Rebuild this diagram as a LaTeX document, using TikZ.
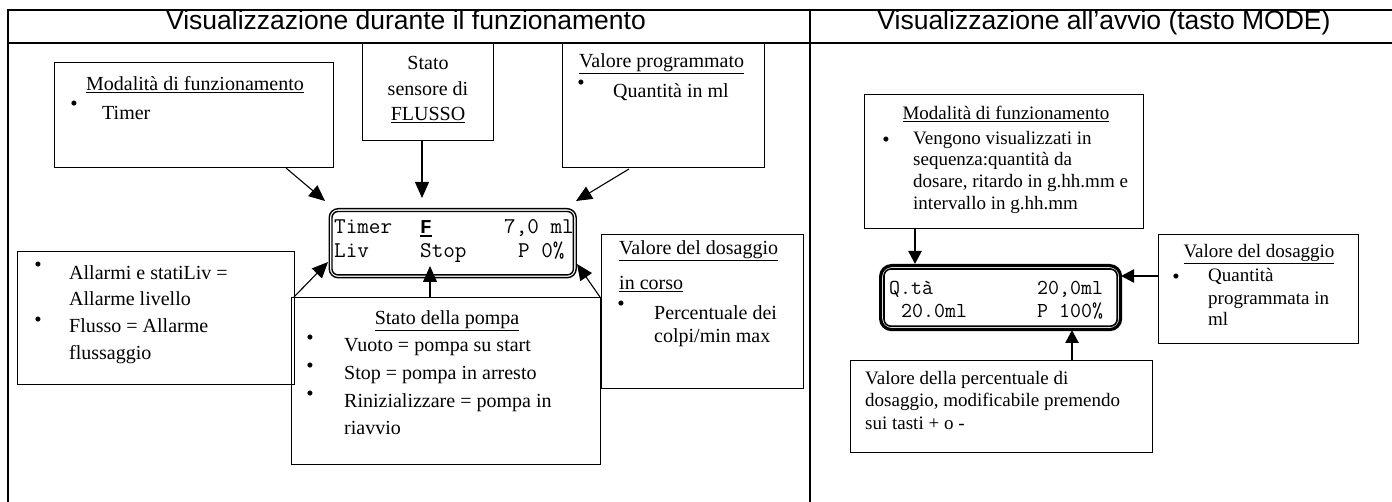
\documentclass[tikz,border=0pt]{standalone}
\usepackage{fontspec}
\setmainfont{Liberation Serif}
\newfontfamily\hdrfont{Liberation Sans}
\newfontfamily\boldmono{Liberation Mono}
\usetikzlibrary{arrows.meta,calc}
\begin{document}
\begin{tikzpicture}[x=1pt,y=-1pt,
  box/.style={draw, line width=1pt, anchor=north west, inner sep=0pt},
  txt/.style={anchor=mid west, inner sep=0pt, font=\fontsize{20}{26}\selectfont},
  ctxt/.style={anchor=mid, inner sep=0pt, font=\fontsize{20}{26}\selectfont},
  txtr/.style={anchor=mid west, inner sep=0pt, font=\fontsize{19}{22}\selectfont},
  ctxtr/.style={anchor=mid, inner sep=0pt, font=\fontsize{19}{22}\selectfont},
  bul/.style={anchor=center, inner sep=0pt, font=\fontsize{21}{24}\selectfont},
  arr/.style={line width=1.1pt, -{Triangle[length=16pt,width=14pt]}},
  arrb/.style={line width=2.6pt, -{Triangle[length=13pt,width=13pt]}},
  lcdl/.style={anchor=mid west, inner sep=0pt, font=\ttfamily\fontsize{22.5}{24}\selectfont},
  lcdr/.style={anchor=mid west, inner sep=0pt, font=\ttfamily\fontsize{21.3}{23}\selectfont},
  hdr/.style={anchor=mid, inner sep=0pt, font=\hdrfont\fontsize{26.5}{30}\selectfont},
]
\useasboundingbox (0,0) rectangle (1392,502);
% table
\draw[line width=2pt] (8,502) -- (8,10) -- (1392,10);
\draw[line width=2pt] (8,43) -- (1392,43);
\draw[line width=2pt] (810,10) -- (810,502);
\node[hdr] (h1) at (406,27) {Visualizzazione durante il funzionamento};
\node[hdr] (h2) at (1104,27) {Visualizzazione all’avvio (tasto MODE)};

% ---------- left panel ----------
\node[box, minimum width=279pt, minimum height=105pt] (modl) at (54,62) {};
\node[ctxt] (modlt) at (195,88) {\underline{Modalità di funzionamento}};
\node[bul] (modlb) at (74,106) {•};
\node[txt] (modl1) at (102,117) {Timer};

\node[box, minimum width=131pt, minimum height=97pt] (stato) at (362,43) {};
\node[ctxt] (stato1) at (428,67) {Stato};
\node[ctxt] (stato2) at (428,93) {sensore di};
\node[ctxt] (stato3) at (428,118) {\underline{FLUSSO}};

\node[box, minimum width=202pt, minimum height=124pt] (valp) at (562,43) {};
\node[txt] (valpt) at (579,65) {\underline{Valore programmato}};
\node[bul] (valpb) at (581,85) {•};
\node[txt] (valp1) at (613,95) {Quantità in ml};

% LCD left
\node[draw, line width=1.4pt, rounded corners=9pt, anchor=north west,
      minimum width=247pt, minimum height=69pt, inner sep=0pt] (lcd1) at (328.5,208) {};
\draw[line width=1.4pt, rounded corners=6pt]
  ($(lcd1.north west)+(3.5,3.5)$) rectangle ($(lcd1.south east)+(-3.5,-3.5)$);
\node[lcdl] (l1a) at (334,231) {Timer};
\node[anchor=mid west, inner sep=0pt, font=\boldmono\bfseries\fontsize{19.7}{24}\selectfont] (l1b) at (420,231) {F};
\draw[line width=2.2pt] ($(l1b.base west)+(0,3)$) -- ($(l1b.base east)+(0,3)$);
\node[lcdl] (l1c) at (504,231) {7,0 ml};
\node[lcdl] (l2a) at (334,255) {Liv};
\node[lcdl] (l2b) at (420,255) {Stop};
\node[lcdl] (l2c) at (518,255) {P 0\%};

\node[box, minimum width=277pt, minimum height=133pt] (allarmi) at (17,251) {};
\node[bul] (allb1) at (38,267) {•};
\node[txt] (all1) at (69,277) {Allarmi e statiLiv =};
\node[txt] (all2) at (69,303) {Allarme livello};
\node[bul] (allb2) at (38,322) {•};
\node[txt] (all3) at (69,330) {Flusso = Allarme};
\node[txt] (all4) at (69,357) {flussaggio};

\node[box, minimum width=309pt, minimum height=167pt] (pompa) at (291,297) {};
\node[ctxt] (pompat) at (447,322) {\underline{Stato della pompa}};
\node[bul] (pb1) at (310,340) {•};
\node[txt] (p1) at (344,349) {Vuoto = pompa su start};
\node[bul] (pb2) at (310,368) {•};
\node[txt] (p2) at (344,377) {Stop = pompa in arresto};
\node[bul] (pb3) at (310,396) {•};
\node[txt] (p3) at (344,405) {Rinizializzare = pompa in};
\node[txt] (p4) at (344,432) {riavvio};

\node[box, minimum width=202pt, minimum height=154pt] (vald) at (601,234) {};
\node[txt] (valdt1) at (619,252) {\underline{Valore del dosaggio}};
\node[txt] (valdt2) at (619,287) {\underline{in corso}};
\node[bul] (valdb) at (621,306) {•};
\node[txt] (vald1) at (654,317) {Percentuale dei};
\node[txt] (vald2) at (654,340) {colpi/min max};

% left arrows
\coordinate (a1s) at (286,168); \coordinate (a1e) at (325,201);
\coordinate (a2s) at (422,140); \coordinate (a2e) at (422,198);
\coordinate (a3s) at (629,169); \coordinate (a3e) at (576,201);
\coordinate (a4s) at (294,297); \coordinate (a4e) at (328,262);
\coordinate (a5s) at (430,297); \coordinate (a5e) at (430,266);
\coordinate (a6s) at (600,297); \coordinate (a6e) at (577,264);
\draw[arr] (a1s) -- (a1e);
\draw[arr] (a2s) -- (a2e);
\draw[arr] (a3s) -- (a3e);
\draw[arr] (a4s) -- (a4e);
\draw[arr] (a5s) -- (a5e);
\draw[arr] (a6s) -- (a6e);

% ---------- right panel ----------
\node[box, minimum width=279pt, minimum height=134pt] (modr) at (864,94) {};
\node[ctxtr] (modrt) at (1006,117) {\underline{Modalità di funzionamento}};
\node[bul] (modrb) at (886,142) {•};
\node[txtr] (modr1) at (913,142) {Vengono visualizzati in};
\node[txtr] (modr2) at (913,163) {sequenza:quantità da};
\node[txtr] (modr3) at (913,185) {dosare, ritardo in g.hh.mm e};
\node[txtr] (modr4) at (913,207) {intervallo in g.hh.mm};

% LCD right
\node[draw, line width=3.2pt, rounded corners=11pt, anchor=north west,
      minimum width=240pt, minimum height=64pt, inner sep=0pt] (lcd2) at (879,264) {};
\draw[line width=1.6pt, rounded corners=7pt]
  ($(lcd2.north west)+(5,5)$) rectangle ($(lcd2.south east)+(-5,-5)$);
\node[lcdr] (r1a) at (889,292) {Q.tà};
\node[lcdr] (r1b) at (1037,292) {20,0ml};
\node[lcdr] (r2a) at (901,315) {20.0ml};
\node[lcdr] (r2b) at (1037,315) {P 100\%};

\node[box, minimum width=200pt, minimum height=109pt] (valdr) at (1158,234) {};
\node[ctxtr] (valdrt) at (1259,255) {\underline{Valore del dosaggio}};
\node[bul] (valdrb) at (1176,279) {•};
\node[txtr] (valdr1) at (1208,279) {Quantità};
\node[txtr] (valdr2) at (1208,302) {programmata in};
\node[txtr] (valdr3) at (1208,323) {ml};

\node[box, minimum width=302pt, minimum height=92pt] (perc) at (850,360) {};
\node[txtr] (perc1) at (865,382) {Valore della percentuale di};
\node[txtr] (perc2) at (865,404) {dosaggio, modificabile premendo};
\node[txtr] (perc3) at (865,427) {sui tasti + o -};

\coordinate (b1s) at (915,228); \coordinate (b1e) at (915,264);
\coordinate (b2s) at (1158,276); \coordinate (b2e) at (1121,276);
\coordinate (b3s) at (1072,360); \coordinate (b3e) at (1072,330);
\draw[arrb] (b1s) -- (b1e);
\draw[arrb] (b2s) -- (b2e);
\draw[arrb] (b3s) -- (b3e);
\end{tikzpicture}
\end{document}
